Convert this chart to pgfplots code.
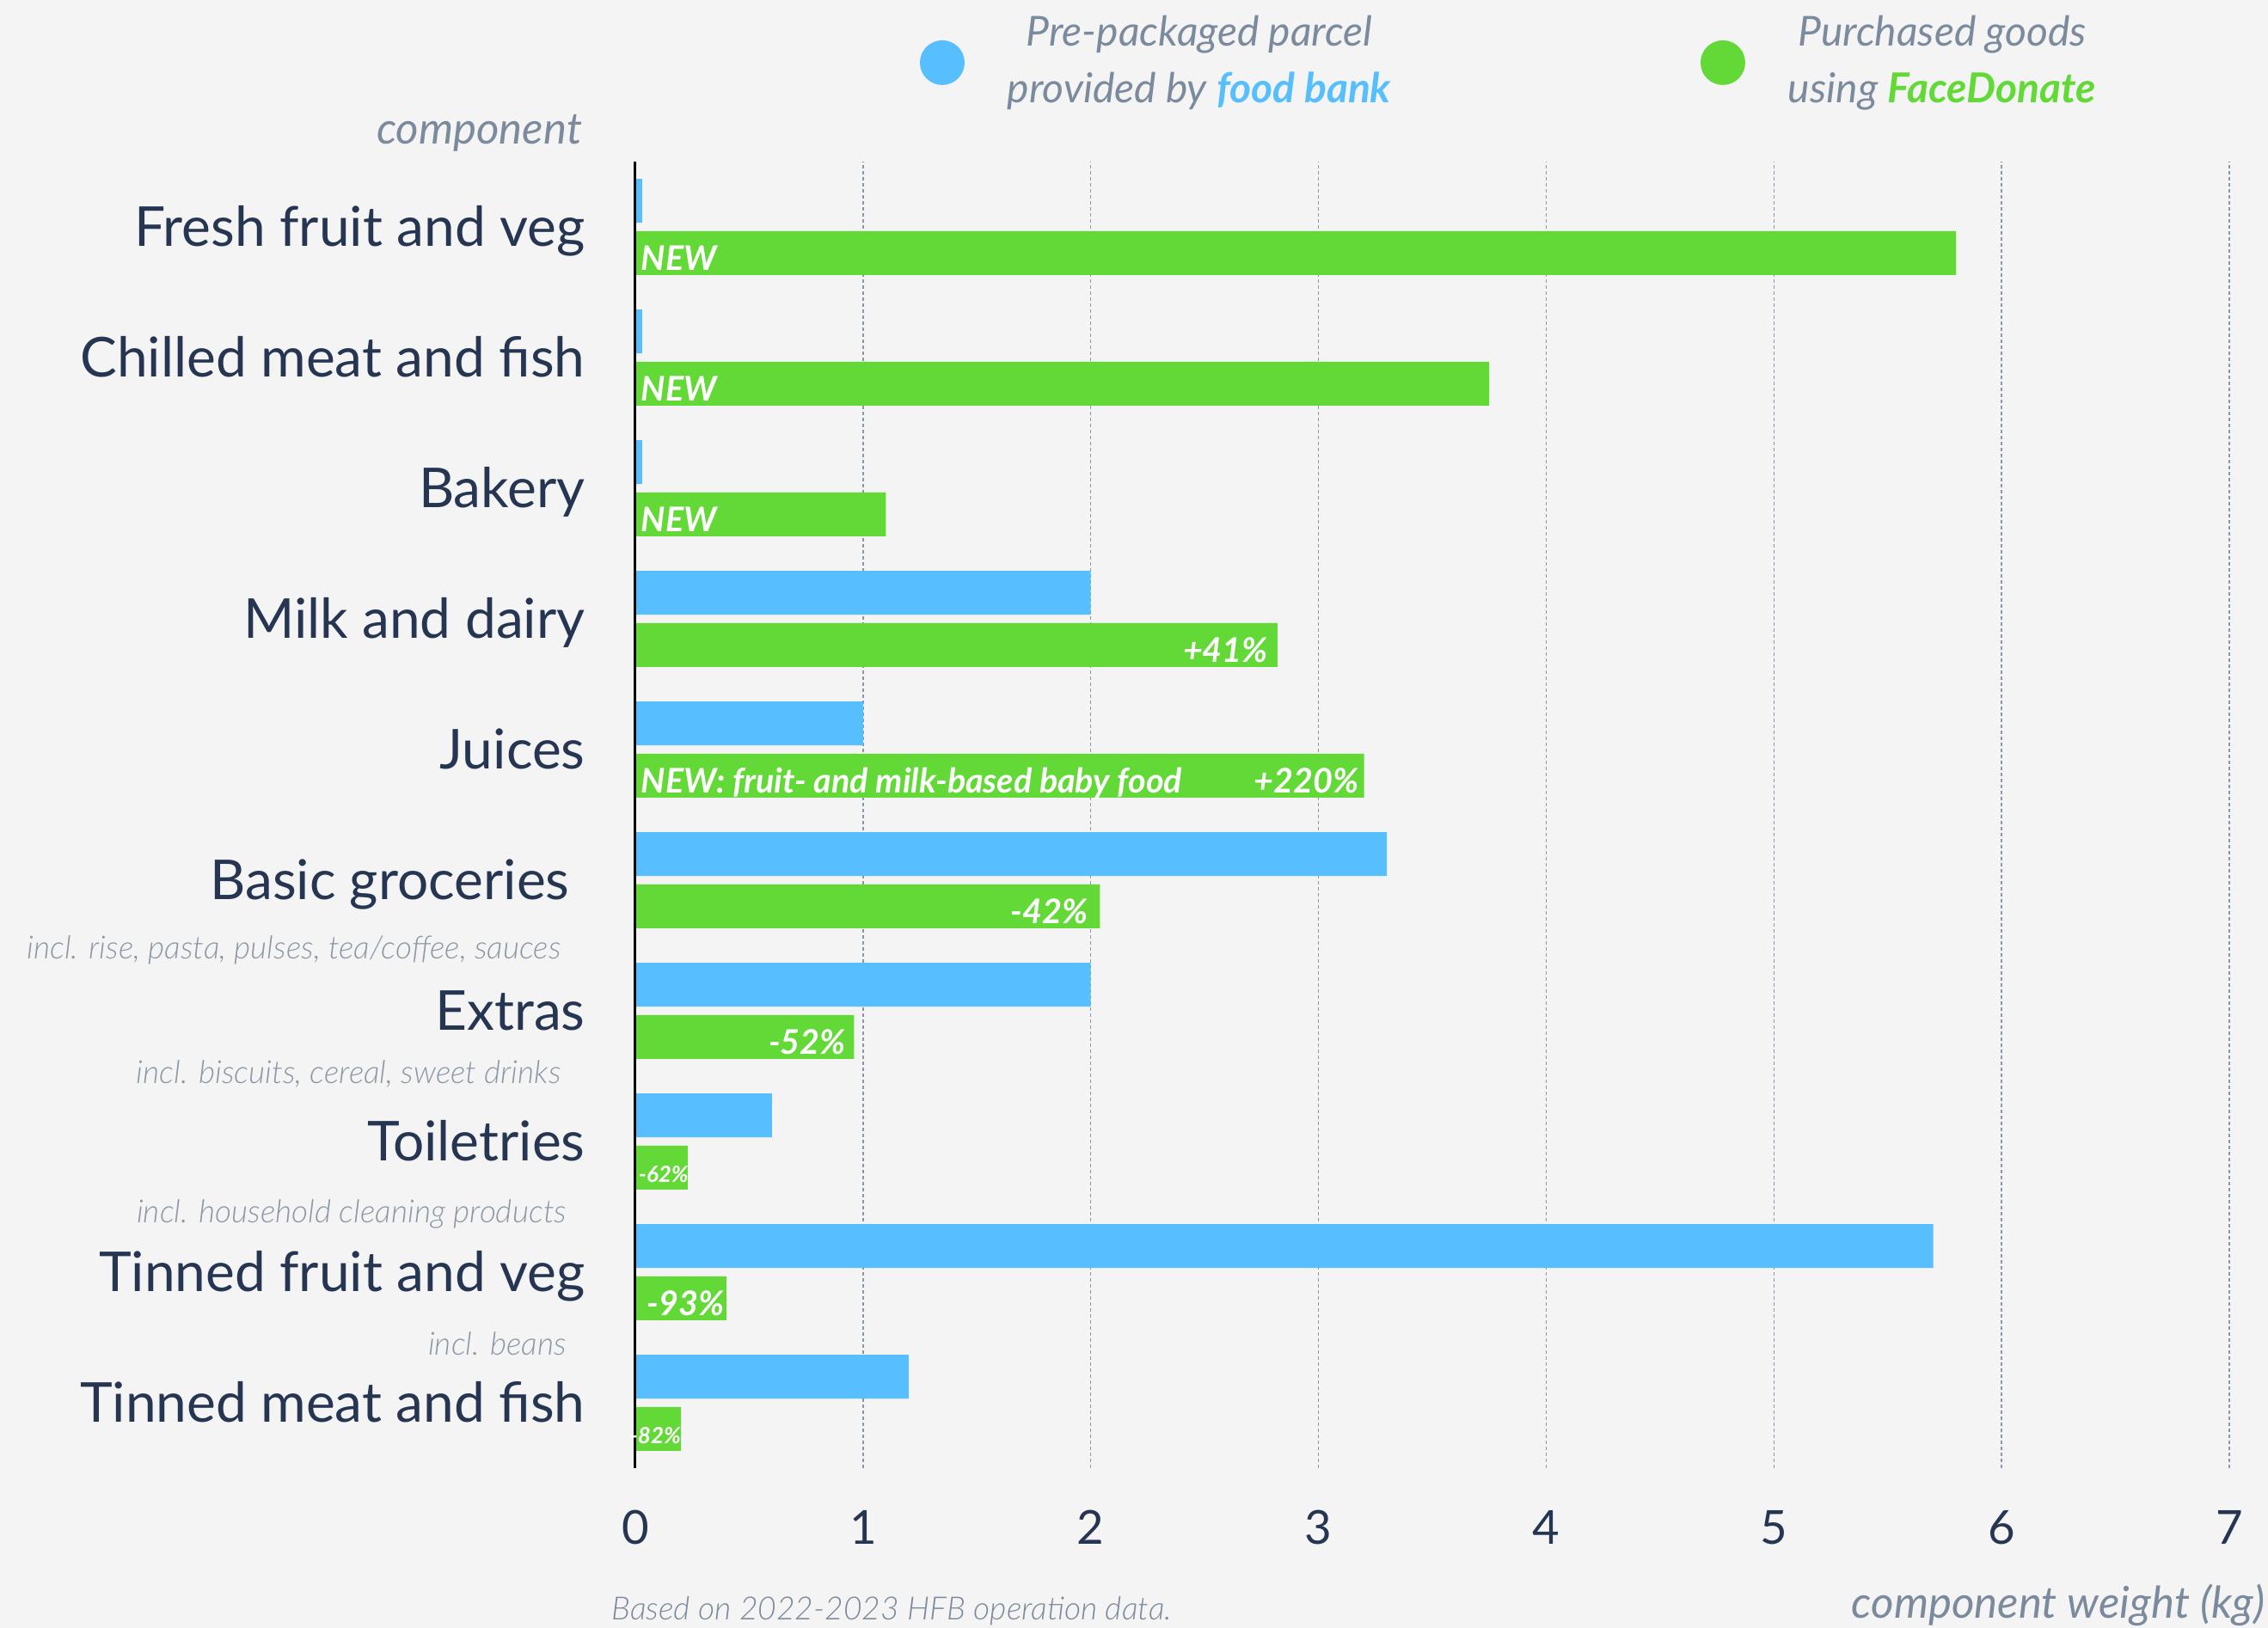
\documentclass[border=0pt]{standalone}
\usepackage{pgfplots}
\pgfplotsset{compat=1.18}
\usepackage{pgfplotstable}
\usepackage{fontspec}
\setmainfont{Lato}
\IfFontExistsTF{Lato Light Italic}
  {\newfontfamily\lightfont{Lato Light}[ItalicFont={Lato Light Italic}]}
  {\newfontfamily\lightfont{Lato}[ItalicFont={Lato Italic}]}

\definecolor{bg}{HTML}{F4F4F4}
\definecolor{barblue}{HTML}{58BFFF}
\definecolor{bargreen}{HTML}{62D936}
\definecolor{navy}{HTML}{253552}
\definecolor{slate}{HTML}{7B8A9C}
\definecolor{subgray}{HTML}{8C98A6}
\definecolor{gridcol}{HTML}{8A97A8}

\tikzset{
    barlbl/.style={font=\bfseries\itshape\fontsize{7.9}{9}\selectfont, text=white,
        inner sep=0pt, yshift=-4pt},
    smalllbl/.style={font=\bfseries\itshape\fontsize{5.2}{6}\selectfont, text=white,
        inner sep=0pt, yshift=-3.5pt},
    sub/.style={font=\lightfont\itshape\fontsize{7.4}{9}\selectfont, text=subgray,
        inner sep=0pt, anchor=mid east},
}

% y position: 9 = top category
\pgfplotstableread{
pos parcel purchased
9 0.03 5.80
8 0.03 3.75
7 0.03 1.10
6 2.00 2.82
5 1.00 3.20
4 3.30 2.04
3 2.00 0.96
2 0.60 0.23
1 5.70 0.40
0 1.20 0.20
}\compdata

\begin{document}
\begin{tikzpicture}
\fill[bg] (-147.8pt,-37.2pt) rectangle (379.8pt,341.6pt);
\begin{axis}[
    at={(0pt,0pt)}, anchor=south west,
    width=370.8pt, height=304pt, scale only axis,
    xmin=0, xmax=7, ymin=-0.5, ymax=9.5,
    clip=false,
    axis line style={draw=none},
    major tick length=0pt,
    xtick={0,...,7}, xticklabels={0,1,2,3,4,5,6,7},
    ytick={0,...,9},
    yticklabels={Tinned meat and fish, Tinned fruit and veg, Toiletries, Extras,
        Basic groceries\kern3.6pt, Juices, Milk and dairy, Bakery,
        Chilled meat and fish, Fresh fruit and veg},
    xticklabel style={font=\fontsize{10.9}{12}\selectfont, text=navy,
        anchor=base, inner sep=0pt, yshift=-17.8pt},
    yticklabel style={font=\fontsize{12.8}{14}\selectfont, text=navy,
        anchor=base east, inner sep=0pt, xshift=-11.5pt, yshift=-4.6pt},
    xmajorgrids,
    grid style={gridcol, line width=0.3pt, dash pattern=on 0.8pt off 0.6pt},
    xlabel={component weight (kg)},
    xlabel style={at={(axis description cs:1.0227,-0.1145)}, anchor=base east,
        inner sep=0pt, font=\itshape\fontsize{10.2}{12}\selectfont, text=slate},
    ylabel={component},
    ylabel style={rotate=-90, at={(axis description cs:-0.0329,1.0132)}, anchor=base east,
        inner sep=0pt, font=\itshape\fontsize{10.2}{12}\selectfont, text=slate},
    legend columns=2,
    legend image code/.code={\fill (0pt,0pt) circle (5.2pt);},
    legend style={at={(axis description cs:0.178,1.0757)}, anchor=west,
        draw=none, fill=none, inner sep=0pt,
        font=\itshape\fontsize{9.6}{13.2}\selectfont, text=slate,
        cells={align=center},
        /tikz/every odd column/.append style={column sep=8pt},
        /tikz/every even column/.append style={column sep=70pt}},
]
\addplot[xbar, fill=barblue, draw=none, bar width=0.3355, bar shift=0.2]
    table[x=parcel, y=pos]{\compdata};
\addlegendentry{Pre-packaged parcel\\provided by {\bfseries\color{barblue}food bank}}
\addplot[xbar, fill=bargreen, draw=none, bar width=0.3355, bar shift=-0.2]
    table[x=purchased, y=pos]{\compdata};
\addlegendentry{Purchased goods\\using {\bfseries\color{bargreen}FaceDonate}}

% left axis line
\draw[black, line width=0.6pt] (axis cs:0,-0.5) -- (axis cs:0,9.5);

% change labels inside the green bars
\node[barlbl, anchor=base west, xshift=1.2pt] at (axis cs:0,8.8) {NEW};
\node[barlbl, anchor=base west, xshift=1.2pt] at (axis cs:0,7.8) {NEW};
\node[barlbl, anchor=base west, xshift=1.2pt] at (axis cs:0,6.8) {NEW};
\node[barlbl, anchor=base east, xshift=-2pt] at (axis cs:2.82,5.8) {+41\%};
\node[barlbl, anchor=base west, xshift=1.2pt] at (axis cs:0,4.8) {NEW: fruit- and milk-based baby food};
\node[barlbl, anchor=base east, xshift=-1pt] at (axis cs:3.20,4.8) {+220\%};
\node[barlbl, anchor=base east, xshift=-2.6pt] at (axis cs:2.04,3.8) {-42\%};
\node[barlbl, anchor=base east, xshift=-1.7pt] at (axis cs:0.96,2.8) {-52\%};
\node[smalllbl, anchor=base west, xshift=0.6pt] at (axis cs:0,1.8) {-62\%};
\node[barlbl, anchor=base east, xshift=-0.3pt] at (axis cs:0.40,0.8) {-93\%};
\node[smalllbl, anchor=base east, xshift=0.2pt] at (axis cs:0.20,-0.2) {-82\%};

% sub-captions under category names
\node[sub, xshift=-17.1pt] at (axis cs:0,3.479) {incl. rise, pasta, pulses, tea/coffee, sauces};
\node[sub, xshift=-17.1pt] at (axis cs:0,2.530) {incl. biscuits, cereal, sweet drinks};
\node[sub, xshift=-15.8pt] at (axis cs:0,1.459) {incl. household cleaning products};
\node[sub, xshift=-15.8pt] at (axis cs:0,0.446) {incl. beans};

\node[anchor=base west, inner sep=0pt, font=\lightfont\itshape\fontsize{7.45}{9}\selectfont, text=slate]
    at (axis description cs:-0.0154,-0.1164) {Based on 2022-2023 HFB operation data.};
\end{axis}
\pgfresetboundingbox
\path (-147.8pt,-37.2pt) rectangle (379.8pt,341.6pt);
\end{tikzpicture}
\end{document}
